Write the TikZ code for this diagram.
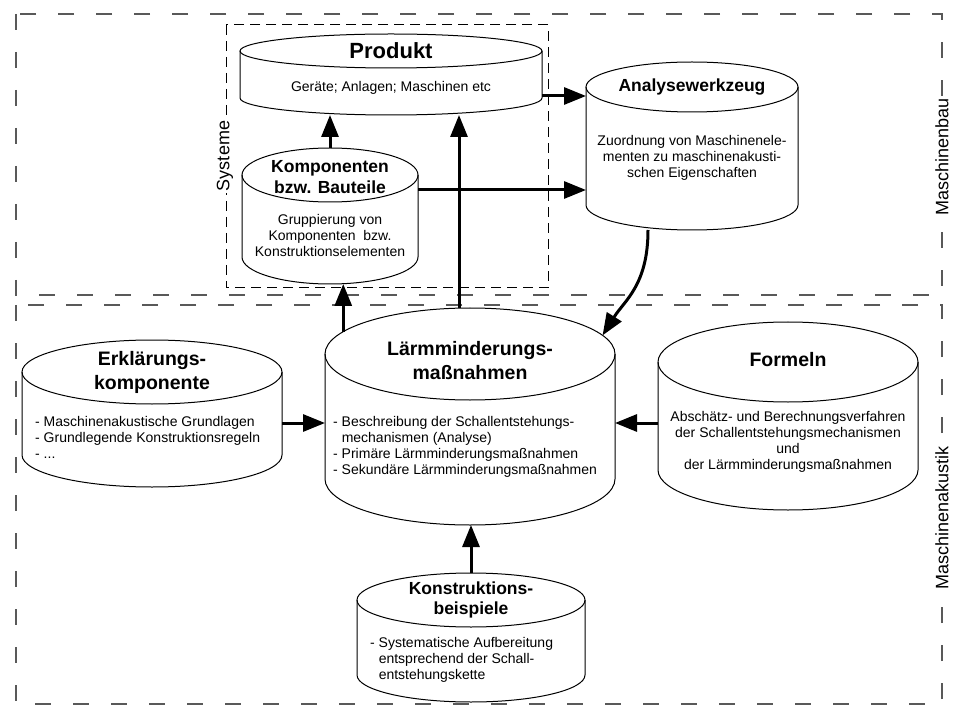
\documentclass[tikz,border=0pt]{standalone}
\usepackage{fontspec}
\setmainfont{Liberation Sans}
\usetikzlibrary{shapes.geometric, arrows.meta, positioning}

\tikzset{
  >={Triangle[length=22pt,width=17pt]},
  lid/.style={ellipse, draw, line width=1pt, inner sep=0pt, outer sep=0pt},
  title/.style={font=\bfseries\fontsize{17.5}{20.5}\selectfont, align=center, inner sep=0pt},
  bigtitle/.style={font=\bfseries\fontsize{19.5}{24}\selectfont, align=center, inner sep=0pt},
  body/.style={font=\fontsize{14}{16}\selectfont, align=center, inner sep=0pt},
  lbody/.style={body, align=left, anchor=west},
  flow/.style={->, line width=3pt},
  area/.style={draw=black!65, line width=1.5pt, dash pattern=on 16pt off 22pt},
  sysarea/.style={draw, line width=1pt, dash pattern=on 10pt off 6pt},
  sidelabel/.style={rotate=90, fill=white, inner sep=2pt, font=\fontsize{18}{20}\selectfont}
}

% walls and lower rim below a lid: lid, wall depth, x radius, y radius
\newcommand{\drumbody}[4]{%
  \draw[line width=1pt] (#1.west) -- ++(0,#2)
    arc[start angle=180, end angle=360, x radius=#3pt, y radius=#4pt] -- (#1.east);
  \coordinate (#1-b) at ([yshift={-(#2+#4)*1pt}]#1.center);
}

\begin{document}
\begin{tikzpicture}[x=1pt, y=-1pt]
  \useasboundingbox (0,0) rectangle (963,708);

  % areas
  \draw[area] (16,14) rectangle (942,295);
  \draw[area] (16,305) rectangle (942,704);
  \draw[sysarea] (226,25) rectangle (548,288);
  \node[sidelabel] (lbl-sys) at (225,156) {Systeme};
  \node[sidelabel] (lbl-mb) at (942,157) {Maschinenbau};
  \node[sidelabel] (lbl-ma) at (942,518) {Maschinenakustik};

  % Produkt
  \node[lid, minimum width=302pt, minimum height=34pt] (prod) at (391,51) {};
  \drumbody{prod}{47}{151}{17}
  \node[title, font=\bfseries\fontsize{22}{24}\selectfont] (prod-title) at (prod) {Produkt};
  \node[body] (prod-text) at (391,88) {Geräte; Anlagen; Maschinen etc};

  % Komponenten
  \node[lid, minimum width=176pt, minimum height=54pt] (komp) at (330,175) {};
  \drumbody{komp}{82}{88}{27}
  \node[title] (komp-title) at (330,177) {Komponenten\\bzw. Bauteile};
  \node[body] (komp-text) at (330,235) {Gruppierung von\\Komponenten\ \ bzw.\\Konstruktionselementen};

  % Analysewerkzeug
  \node[lid, minimum width=212pt, minimum height=50pt] (ana) at (692,87) {};
  \drumbody{ana}{118}{106}{25}
  \node[title] (ana-title) at (ana) {Analysewerkzeug};
  \node[body] (ana-text) at (692,158) {Zuordnung von Maschinenele-\\menten zu maschinenakusti-\\schen Eigenschaften};

  % Laermminderungsmassnahmen
  \node[lid, minimum width=290pt, minimum height=92pt] (laerm) at (470,354) {};
  \drumbody{laerm}{125}{145}{46}
  \node[bigtitle] (laerm-title) at (470,361) {Lärmminderungs-\\maßnahmen};
  \node[lbody] (laerm-text) at (333,447) {- Beschreibung der Schallentstehungs-\\\phantom{- }mechanismen (Analyse)\\- Primäre Lärmminderungsmaßnahmen\\- Sekundäre Lärmminderungsmaßnahmen};

  % Erklaerungskomponente
  \node[lid, minimum width=260pt, minimum height=64pt] (erkl) at (152,372) {};
  \drumbody{erkl}{83}{130}{32}
  \node[bigtitle] (erkl-title) at (erkl) {Erklärungs-\\komponente};
  \node[lbody] (erkl-text) at (35,437) {- Maschinenakustische Grundlagen\\- Grundlegende Konstruktionsregeln\\- ...};

  % Formeln
  \node[lid, minimum width=260pt, minimum height=80pt] (form) at (788,362) {};
  \drumbody{form}{108}{130}{40}
  \node[bigtitle] (form-title) at (788,360) {Formeln};
  \node[body] (form-text) at (788,442) {Abschätz- und Berechnungsverfahren\\der Schallentstehungsmechanismen\\und\\der Lärmminderungsmaßnahmen};

  % Konstruktionsbeispiele
  \node[lid, minimum width=228pt, minimum height=54pt] (konstr) at (471,600) {};
  \drumbody{konstr}{75}{114}{27}
  \node[title] (konstr-title) at (konstr) {Konstruktions-\\beispiele};
  \node[lbody] (konstr-text) at (370,660) {- Systematische Aufbereitung\\\phantom{- }entsprechend der Schall-\\\phantom{- }entstehungskette};

  % connections
  \draw[flow] (komp.north) -- (komp.north |- prod-b);
  \draw[flow] ([xshift=-11pt]laerm.north) -- ([xshift=-11pt]laerm.north |- prod-b);
  \draw[flow] (laerm.170) -- (laerm.170 |- komp-b);
  \draw[flow] ([yshift=-45pt]prod.east) -- ([yshift=-45pt]prod.east -| ana.west);
  \draw[flow] ([yshift=-15pt]komp.east) -- ([yshift=-15pt]komp.east -| ana.west);
  \draw[flow] ([xshift=-44pt]ana-b) .. controls +(0,55) and +(22,-35) .. (laerm.8);
  \draw[flow] ([yshift=-51pt]erkl.east) -- ([yshift=-51pt]erkl.east -| laerm.west);
  \draw[flow] ([yshift=-61pt]form.west) -- ([yshift=-61pt]form.west -| laerm.east);
  \draw[flow] (konstr.north) -- (konstr.north |- laerm-b);
\end{tikzpicture}
\end{document}
